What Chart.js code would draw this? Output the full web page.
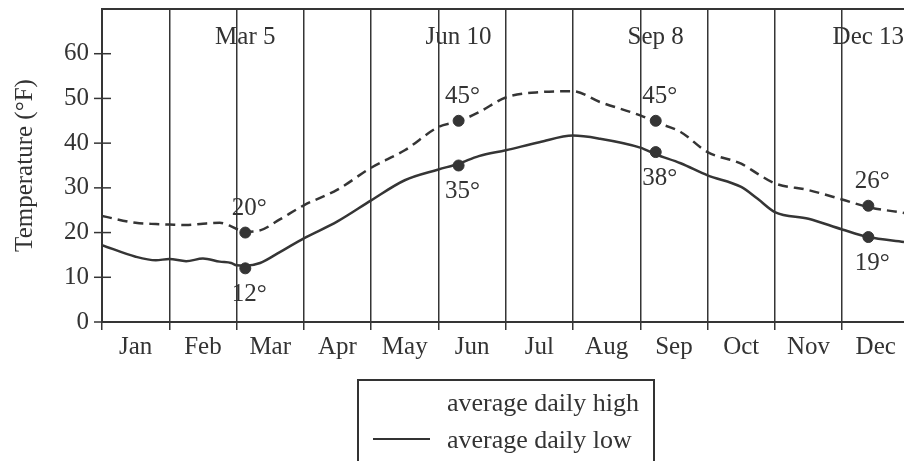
<!DOCTYPE html>
<html>
<head>
<meta charset="utf-8">
<script src="https://cdn.jsdelivr.net/npm/chart.js@4"></script>
<style>
  body { margin: 0; background: #fff; }
  #wrap { position: relative; width: 904px; height: 461px; overflow: hidden; font-family: 'Liberation Serif', 'DejaVu Serif', serif; color: #333; }
  #legende { position: absolute; left: 357px; top: 379px; width: 298px; height: 110px; box-sizing: border-box;
    border: 2px solid #333; border-bottom: none; }
  #legende .txt { position: absolute; left: 88px; font-size: 26px; line-height: 30px; white-space: nowrap; }
  #legende .amostra { position: absolute; left: 14px; width: 57px; border-top: 2.5px solid #333; }
</style>
</head>
<body>
<div id="wrap">
  <canvas id="grafico" width="904" height="461"></canvas>
  <div id="legende">
    <span class="txt" style="top:7px">average daily high</span>
    <span class="amostra" style="top:57px"></span>
    <span class="txt" style="top:44px">average daily low</span>
  </div>
</div>
<script>
// Meses (eixo x em unidades de mês: 0 = início de jan)
const meses = ['Jan', 'Feb', 'Mar', 'Apr', 'May', 'Jun', 'Jul', 'Aug', 'Sep', 'Oct', 'Nov', 'Dec'];
const ticksY = [0, 10, 20, 30, 40, 50, 60];

// Curvas
const posCurva = [0, 0.5, 0.8, 1, 1.25, 1.5, 1.75, 1.92, 2, 2.13, 2.35, 2.65, 3, 3.5, 4, 4.5, 5, 5.3, 5.6, 6, 6.5, 7, 7.4, 8, 8.23, 8.6, 9, 9.5, 9.74, 10, 10.5, 11, 11.39, 11.92];
const maxima = [23.7, 22.2, 21.9, 21.8, 21.7, 22.0, 22.2, 21.4, 20.8, 20.2, 20.5, 23.0, 26.1, 29.6, 34.5, 38.4, 43.6, 44.9, 46.9, 50.2, 51.4, 51.6, 49.2, 46.2, 44.7, 42.5, 38.0, 35.4, 33.2, 31.0, 29.5, 27.4, 25.7, 24.4];
const minima = [17.2, 14.6, 13.8, 14.1, 13.6, 14.2, 13.5, 13.2, 12.7, 12.6, 13.2, 15.7, 18.7, 22.5, 27.2, 31.7, 34.1, 35.4, 37.1, 38.4, 40.2, 41.7, 41.0, 39.0, 37.5, 35.5, 32.8, 30.2, 27.6, 24.6, 23.1, 20.7, 19.0, 17.9];

// Datas marcadas
const datasMarcadas = ['Mar 5', 'Jun 10', 'Sep 8', 'Dec 13'];
const posMarcadas = [2.13, 5.3, 8.23, 11.39];
const maxMarcadas = [20, 45, 45, 26];
const minMarcadas = [12, 35, 38, 19];

const corLinha = '#353535';
const corTexto = '#333';
const fonte = "'Liberation Serif', 'DejaVu Serif', serif";

function pontos(xs, ys) {
    return xs.map((x, i) => ({ x: x, y: ys[i] }));
}

// Plugin: moldura de cima, tracinhos do eixo y e rótulos das datas
const enfeites = {
    id: 'enfeites',
    afterDraw(chart) {
        const { ctx, chartArea, scales } = chart;
        const x = scales.x, y = scales.y;
        ctx.save();
        ctx.strokeStyle = corLinha;
        ctx.lineWidth = 2;
        ctx.beginPath();
        ctx.moveTo(chartArea.left, chartArea.top);
        ctx.lineTo(chartArea.right, chartArea.top);
        ctx.stroke();

        ctx.lineWidth = 1.5;
        ticksY.forEach(v => {
            const py = y.getPixelForValue(v);
            ctx.beginPath();
            ctx.moveTo(chartArea.left - 8, py);
            ctx.lineTo(chartArea.left + 9, py);
            ctx.stroke();
        });

        ctx.fillStyle = corTexto;
        ctx.font = '25px ' + fonte;
        ctx.textAlign = 'center';
        ctx.textBaseline = 'middle';
        posMarcadas.forEach((m, i) => {
            const px = x.getPixelForValue(m);
            ctx.fillText(datasMarcadas[i], px, y.getPixelForValue(63.6));
            ctx.fillText(maxMarcadas[i] + '°', px + 4, y.getPixelForValue(maxMarcadas[i]) - 24);
            ctx.fillText(minMarcadas[i] + '°', px + 4, y.getPixelForValue(minMarcadas[i]) + 26);
        });
        ctx.restore();
    }
};

const ctxGrafico = document.getElementById('grafico').getContext('2d');
new Chart(ctxGrafico, {
    type: 'line',
    data: {
        datasets: [{
            label: 'average daily high',
            data: pontos(posCurva, maxima),
            borderColor: corLinha,
            borderWidth: 2.5,
            borderDash: [10, 6],
            pointRadius: 0,
            cubicInterpolationMode: 'monotone'
        }, {
            label: 'average daily low',
            data: pontos(posCurva, minima),
            borderColor: corLinha,
            borderWidth: 2.5,
            pointRadius: 0,
            cubicInterpolationMode: 'monotone'
        }, {
            label: 'pontos',
            data: pontos(posMarcadas, maxMarcadas).concat(pontos(posMarcadas, minMarcadas)),
            showLine: false,
            pointRadius: 5.5,
            pointBackgroundColor: corLinha,
            pointBorderColor: corLinha
        }]
    },
    options: {
        responsive: false,
        animation: false,
        devicePixelRatio: 1,
        layout: { autoPadding: false, padding: { top: 9, right: 0, left: 0, bottom: 0 } },
        plugins: { legend: { display: false }, tooltip: { enabled: false } },
        scales: {
            x: {
                type: 'linear',
                min: 0,
                max: 11.92,
                afterBuildTicks: scale => {
                    const t = [];
                    for (let i = 0; i < 12; i++) { t.push({ value: i }); t.push({ value: i + 0.5 }); }
                    scale.ticks = t;
                },
                afterFit: scale => {
                    scale.height = 139;
                    scale.paddingLeft = 0;
                    scale.paddingRight = 0;
                },
                ticks: {
                    autoSkip: false,
                    maxRotation: 0,
                    padding: 2,
                    color: corTexto,
                    font: { family: fonte, size: 25 },
                    callback: v => Number.isInteger(v) ? '' : meses[Math.floor(v)]
                },
                grid: {
                    color: c => (c.tick && Number.isInteger(c.tick.value)) ? corLinha : 'rgba(0,0,0,0)',
                    tickColor: c => (c.tick && Number.isInteger(c.tick.value)) ? corLinha : 'rgba(0,0,0,0)',
                    lineWidth: 1.5,
                    tickLength: 8
                },
                border: { color: corLinha, width: 2 }
            },
            y: {
                min: 0,
                max: 70,
                afterBuildTicks: scale => { scale.ticks = ticksY.map(v => ({ value: v })); },
                afterFit: scale => {
                    scale.width = 102;
                    scale.paddingTop = 0;
                    scale.paddingBottom = 0;
                },
                ticks: {
                    padding: 13,
                    color: corTexto,
                    font: { family: fonte, size: 25 }
                },
                grid: { display: false, drawTicks: false },
                border: { color: corLinha, width: 2 },
                title: {
                    display: true,
                    text: 'Temperature (°F)',
                    color: corTexto,
                    font: { family: fonte, size: 25 },
                    padding: { top: 10, bottom: 0 }
                }
            }
        }
    },
    plugins: [enfeites]
});
</script>
</body>
</html>
